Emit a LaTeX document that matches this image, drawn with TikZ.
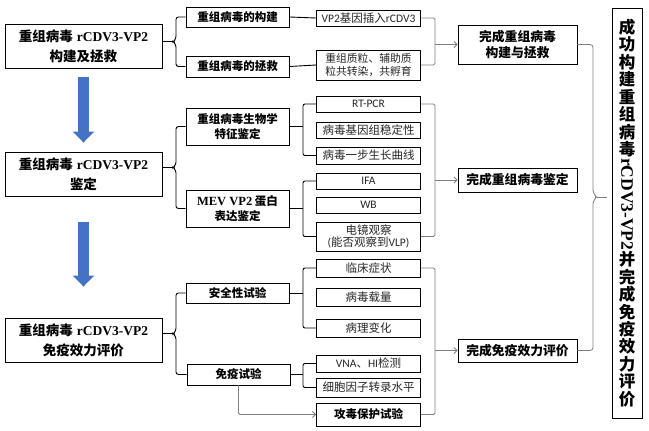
\documentclass[tikz,border=0pt]{standalone}
\usepackage{fontspec}
\usepackage{graphicx}
\usetikzlibrary{arrows.meta,calc}
\setmainfont{Noto Sans CJK SC}
\newfontfamily\tms{Liberation Serif}
\newfontfamily\calf{Carlito}
\definecolor{arrblue}{HTML}{4472C4}
\definecolor{lnk}{HTML}{7F7F7F}
\definecolor{txt}{HTML}{262626}
\newcommand\vcell[1]{\hbox to 30pt{\hss\vbox to 17.5pt{\vss\hbox{#1}\vss}\hss}}
\newcommand\mybrace[4]{%
  \draw[lk, rounded corners=2.5pt] (#1.west) -- ($(#3 |- #1.west)+(3,0)$) -- ($(#3)+(3,-3)$) -- (#3) -- ($(#3)+(3,3)$) -- ($(#3 |- #2.west)+(3,0)$) -- (#2.west);
  \draw[lk] (#3) -- (#4.east |- #3);}
\newcommand\mytree[4]{%
  \draw[lk, rounded corners=2pt] (#2.west) -| (s |- #1.east) |- (#3.west);
  \draw[lk] (#1.east) -- (s |- #1.east);}
\newcommand\mygray[3]{%
  \draw[gk, rounded corners=1.5pt] (#2.east) -| (g |- #1.west) |- (#3.east);
  \draw[gk, gtip] (g |- #1.west) -- (#1.west);}
\begin{document}
\begin{tikzpicture}[x=1pt,y=-1pt,
 every node/.style={inner sep=0pt, align=center},
 bx/.style={draw=black, line width=0.9pt},
 lbox/.style={bx, minimum width=157pt, minimum height=44pt, font=\fontsize{13.5}{20}\selectfont\bfseries},
 mbox/.style={bx, minimum width=103pt, font=\fontsize{11.5}{15}\selectfont\bfseries},
 sbox/.style={bx, minimum width=104pt, text=txt, font=\fontsize{11.5}{13}\selectfont},
 fbox/.style={bx, minimum width=119pt, font=\fontsize{12.8}{16}\selectfont\bfseries},
 lk/.style={draw=black, line width=0.9pt},
 gk/.style={draw=lnk, line width=0.8pt},
 gtip/.style={-{Straight Barb[length=3pt,width=6pt]}},
 bigarrow/.style={draw=arrblue, line width=11pt, -{Triangle[width=21pt,length=11pt]}},
]
\useasboundingbox (0,0) rectangle (649,431);

% left column
\node[lbox] (L1) at (83.5,46.5) {重组病毒\hspace{4pt}{\tms rCDV3-VP2}\\构建及拯救};
\node[lbox] (L2) at (83.5,174) {重组病毒\hspace{4pt}{\tms rCDV3-VP2}\\鉴定};
\node[lbox] (L3) at (83.5,340) {重组病毒\hspace{4pt}{\tms rCDV3-VP2}\\免疫效力评价};

\draw[bigarrow] ([yshift=-8pt]L1.south) -- ([yshift=9pt]L2.north);
\draw[bigarrow] ([yshift=-26pt]L2.south) -- ([yshift=31pt]L3.north);

% second column
\node[mbox, minimum height=20pt] (A1) at (237.5,17) {重组病毒的构建};
\node[mbox, minimum height=21pt] (A2) at (237.5,66.5) {重组病毒的拯救};
\node[mbox, minimum height=37pt] (B1) at (237.5,126.5) {重组病毒生物学\\特征鉴定};
\node[mbox, minimum height=37pt] (B2) at (237.5,208.5) {{\tms\fontsize{12.5}{15}\selectfont MEV VP2} 蛋白\\表达鉴定};
\node[mbox, minimum height=20pt] (C1) at (237.5,293) {安全性试验};
\node[mbox, minimum height=21pt] (C2) at (238.5,374.5) {免疫试验};

% third column
\node[sbox, minimum height=16pt] (a1) at (368.5,18) {{\calf VP2}基因插入{\calf rCDV3}};
\node[sbox, minimum height=30pt, font=\fontsize{10.8}{13}\selectfont] (a2) at (368.5,65) {重组质粒、辅助质\\粒共转染，共孵育};
\node[sbox, minimum height=16pt] (b1) at (368.5,104) {{\calf RT-PCR}};
\node[sbox, minimum height=16pt] (b2) at (368.5,130) {病毒基因组稳定性};
\node[sbox, minimum height=17pt] (b3) at (368.5,155.5) {病毒一步生长曲线};
\node[sbox, minimum height=16pt] (b4) at (368.5,181) {{\calf IFA}};
\node[sbox, minimum height=16pt] (b5) at (368.5,205) {{\calf WB}};
\node[sbox, minimum height=29pt, font=\fontsize{11.5}{12.5}\selectfont] (b6) at (368.5,236.5) {电镜观察\\{\calf (}能否观察到{\calf VLP)}};
\node[sbox, minimum height=18pt] (c1) at (368.5,268) {临床症状};
\node[sbox, minimum height=18pt] (c2) at (368.5,297) {病毒载量};
\node[sbox, minimum height=18pt] (c3) at (368.5,328) {病理变化};
\node[sbox, minimum height=17pt] (c4) at (368.5,363.5) {{\calf VNA}、{\calf HI}检测};
\node[sbox, minimum height=19pt] (c5) at (368.5,387.5) {细胞因子转录水平};
\node[sbox, minimum height=23pt, text=black, font=\fontsize{11.5}{13}\selectfont\bfseries] (c6) at (368.5,414.5) {攻毒保护试验};

% fourth column
\node[fbox, minimum height=39pt] (D1) at (517.5,44.5) {完成重组病毒\\构建与拯救};
\node[fbox, minimum height=24pt] (D2) at (517.5,180) {完成重组病毒鉴定};
\node[fbox, minimum height=23pt] (D3) at (517.5,350.5) {完成免疫效力评价};

% right column
\node[bx, minimum width=30pt, minimum height=410pt, font=\fontsize{16.5}{17.5}\selectfont\bfseries] (R) at (627,213) {\vbox{\offinterlineskip
\vcell{成}\vcell{功}\vcell{构}\vcell{建}\vcell{重}\vcell{组}\vcell{病}\vcell{毒}%
\hbox to 30pt{\hss\rotatebox{-90}{\tms\fontsize{17.5}{17.5}\selectfont rCDV3-VP2}\hss}%
\vcell{并}\vcell{完}\vcell{成}\vcell{免}\vcell{疫}\vcell{效}\vcell{力}\vcell{评}\vcell{价}}};

% braces from left column
\coordinate (t1) at (173,41.75);
\coordinate (t2) at (173,167.5);
\coordinate (t3) at (173,333.75);
\mybrace{A1}{A2}{t1}{L1}
\mybrace{B1}{B2}{t2}{L2}
\mybrace{C1}{C2}{t3}{L3}

% trees from second column
\coordinate (s) at (303,0);
\draw[lk] (A1.east) -- (a1.west);
\draw[lk] (A2.east) -- (a2.west);
\mytree{B1}{b1}{b3}{}
\mytree{B2}{b4}{b6}{}
\mytree{C1}{c1}{c3}{}
\mytree{C2}{c4}{c5}{}
\draw[gk, gtip, rounded corners=1.5pt] (C2.south) |- (c6.west);

% gray connectors to fourth column
\coordinate (g) at (435,0);
\mygray{D1}{a1}{a2}
\mygray{D2}{b1}{b6}
\mygray{D3}{c1}{c6}

% final brace
\coordinate (h) at (593,197);
\draw[gk, rounded corners=3pt] (D1.east) -- (h |- D1.east) -- ($(h)+(0,-4)$) -- ($(h)+(4,0)$) -- ($(h)+(0,4)$) -- (h |- D3.east) -- (D3.east);
\draw[gk] ($(h)+(4,0)$) -- ($(R.west |- h)+(-5,0)$);
\end{tikzpicture}
\end{document}
